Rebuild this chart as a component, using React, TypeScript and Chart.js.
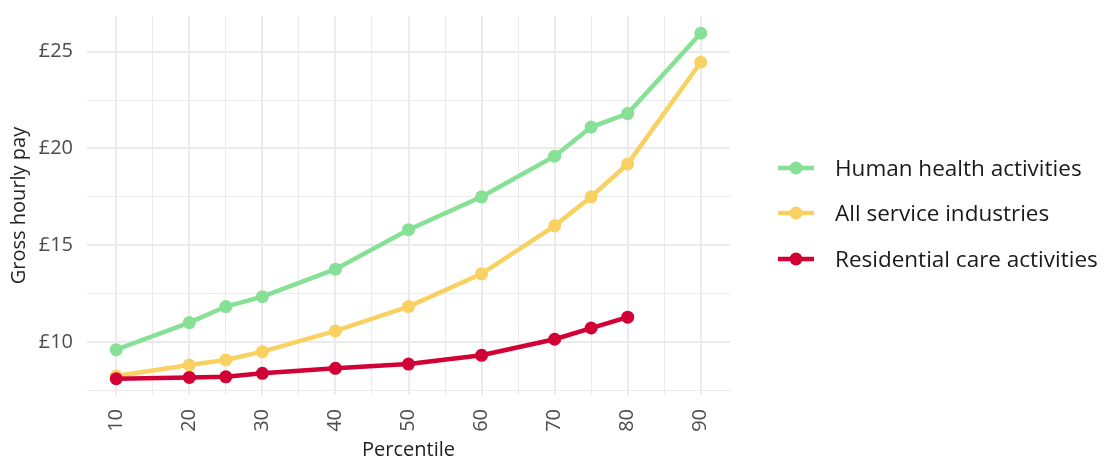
import React, { useEffect, useRef } from "react";
import { Chart, registerables } from "chart.js";

Chart.register(...registerables);

const percentiles = [10, 20, 25, 30, 40, 50, 60, 70, 75, 80, 90];
const seriesNames = ["Human health activities", "All service industries", "Residential care activities"];
const humanHealth = [9.6, 11.0, 11.83, 12.34, 13.76, 15.8, 17.5, 19.6, 21.1, 21.8, 25.95];
const allServices = [8.24, 8.81, 9.07, 9.5, 10.57, 11.83, 13.52, 16.0, 17.5, 19.2, 24.45];
const residentialCare = [8.1, 8.17, 8.2, 8.38, 8.64, 8.86, 9.31, 10.14, 10.72, 11.28, null];
const seriesColors = ["#86E095", "#F8D162", "#D10035"];
const xGridValues = [10, 15, 20, 25, 30, 35, 40, 45, 50, 55, 60, 65, 70, 75, 80, 85, 90];
const yGridValues = [7.5, 10, 12.5, 15, 17.5, 20, 22.5, 25];

const FONT = "'Open Sans', 'Noto Sans', sans-serif";

const legendPlugin = {
  id: "customLegend",
  afterDraw(chart: any) {
    const ctx = chart.ctx;
    const rows = [168, 213, 259];
    ctx.save();
    seriesNames.forEach((name, i) => {
      const y = rows[i];
      ctx.strokeStyle = seriesColors[i];
      ctx.lineWidth = 4.5;
      ctx.beginPath();
      ctx.moveTo(778, y);
      ctx.lineTo(814, y);
      ctx.stroke();
      ctx.fillStyle = seriesColors[i];
      ctx.beginPath();
      ctx.arc(796, y, 6.5, 0, Math.PI * 2);
      ctx.fill();
      ctx.fillStyle = "#1A1A1A";
      ctx.font = `22.5px ${FONT}`;
      ctx.textBaseline = "middle";
      ctx.textAlign = "left";
      ctx.fillText(name, 835, y + 1.5);
    });
    ctx.restore();
  },
};

const zeroPad = (s: any) => {
  s.paddingTop = 0;
  s.paddingBottom = 0;
  s.paddingLeft = 0;
  s.paddingRight = 0;
};

export default function App() {
  const ref = useRef<HTMLCanvasElement>(null);
  useEffect(() => {
    if (!ref.current) return;
    const mk = (label: string, data: (number | null)[], color: string, order: number) => ({
      label,
      data: percentiles.map((p, i) => ({ x: p, y: data[i] })),
      borderColor: color,
      backgroundColor: color,
      pointBackgroundColor: color,
      pointBorderWidth: 0,
      pointRadius: 6.5,
      pointHoverRadius: 6.5,
      borderWidth: 4.5,
      tension: 0,
      spanGaps: false,
      order,
    });
    const chart = new Chart(ref.current, {
      type: "line",
      data: {
        datasets: [
          mk(seriesNames[0], humanHealth, seriesColors[0], 2),
          mk(seriesNames[1], allServices, seriesColors[1], 1),
          mk(seriesNames[2], residentialCare, seriesColors[2], 0),
        ],
      },
      options: {
        animation: false,
        responsive: false,
        devicePixelRatio: 1,
        layout: { padding: { left: 0, right: 375, top: 16, bottom: 0 } },
        plugins: { legend: { display: false }, tooltip: { enabled: false } },
        scales: {
          x: {
            type: "linear",
            min: 6,
            max: 94,
            afterBuildTicks: (s: any) => {
              s.ticks = xGridValues.map((v) => ({ value: v }));
            },
            afterFit: (s: any) => {
              s.height = 64;
              zeroPad(s);
            },
            grid: {
              color: "#EBEBEB",
              lineWidth: (c: any) => (c.tick && c.tick.value % 10 === 0 ? 2 : 1),
              drawTicks: false,
            },
            border: { display: false },
            ticks: {
              autoSkip: false,
              minRotation: 90,
              maxRotation: 90,
              padding: 14,
              color: "#4D4D4D",
              font: { family: FONT, size: 20 },
              callback: (v: any) => (Number(v) % 10 === 0 ? String(v) : ""),
            },
            title: {
              display: true,
              text: "Percentile",
              color: "#222222",
              font: { family: FONT, size: 20 },
              padding: { top: 0, bottom: -3 },
            },
          },
          y: {
            type: "linear",
            min: 7.26,
            max: 26.84,
            afterBuildTicks: (s: any) => {
              s.ticks = yGridValues.map((v) => ({ value: v }));
            },
            afterFit: (s: any) => {
              s.width = 87;
              zeroPad(s);
            },
            grid: {
              color: "#EBEBEB",
              lineWidth: (c: any) => (c.tick && c.tick.value % 5 === 0 ? 2 : 1),
              drawTicks: false,
            },
            border: { display: false },
            ticks: {
              padding: 14,
              color: "#4D4D4D",
              font: { family: FONT, size: 20 },
              callback: (v: any) => (Number(v) % 5 === 0 ? "£" + v : ""),
            },
            title: {
              display: true,
              text: "Gross hourly pay",
              color: "#222222",
              font: { family: FONT, size: 20 },
              padding: { top: 7, bottom: 0 },
            },
          },
        },
      },
      plugins: [legendPlugin],
    });
    return () => chart.destroy();
  }, []);
  return (
    <div style={{ position: "fixed", left: 0, top: 0, width: 1105, height: 459, background: "#fff" }}>
      <canvas ref={ref} width={1105} height={459} style={{ width: 1105, height: 459, display: "block" }} />
    </div>
  );
}
